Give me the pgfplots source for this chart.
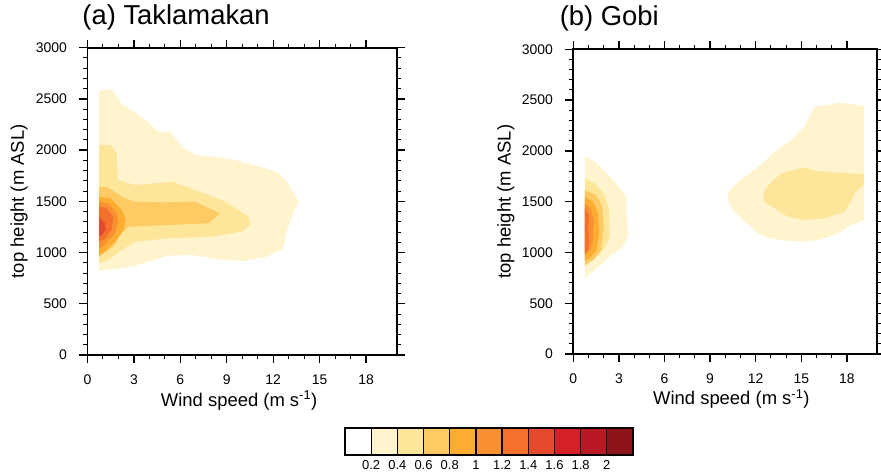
\documentclass[border=0pt]{standalone}
\usepackage{fontspec}
\setmainfont{Liberation Sans}
\usepackage{pgfplots}
\pgfplotsset{compat=1.18}

\definecolor{c1}{HTML}{FFF4CE}
\definecolor{c2}{HTML}{FDE69A}
\definecolor{c3}{HTML}{FDCA63}
\definecolor{c4}{HTML}{FDAE32}
\definecolor{c5}{HTML}{F99132}
\definecolor{c6}{HTML}{F4702C}
\definecolor{c7}{HTML}{E64A2C}
\definecolor{c8}{HTML}{D62029}
\definecolor{c9}{HTML}{B61923}
\definecolor{c10}{HTML}{8B1319}

\pgfplotsset{
  panel/.style={
    scale only axis,
    xmin=0, xmax=20, ymin=0, ymax=3000,
    xtick={0,3,...,18}, ytick={0,500,...,3000},
    minor x tick num=2, minor y tick num=4,
    tick align=outside,
    major tick length=8bp, minor tick length=4bp,
    axis line style={line width=1.8bp},
    major tick style={line width=1.4bp, black},
    minor tick style={line width=1bp, black},
    tick label style={font=\fontsize{14}{14}\selectfont},
    xticklabel style={yshift=-8bp},
    yticklabel style={xshift=-9bp},
    /pgf/number format/assume math mode=true,
    /pgf/number format/set thousands separator={},
    scaled y ticks=false,
    xlabel={Wind speed (m s\textsuperscript{-1})},
    ylabel={top height (m ASL)},
    label style={font=\fontsize{18.5}{18.5}\selectfont},
    title style={font=\fontsize{27.5}{27.5}\selectfont, anchor=base west, inner sep=0pt},
    axis on top,
  },
  band/.style={draw=none, fill=#1},
}

\begin{document}
\begin{tikzpicture}
\path[use as bounding box] (0,0) rectangle (881bp,475bp);

% ---------------- (a) Taklamakan ----------------
\begin{axis}[panel,
  at={(87.5bp,120bp)}, anchor=south west,
  width=309.5bp, height=307.3bp,
  title={(a) Taklamakan},
  title style={at={(axis description cs:-0.017,1.055)}},
  xlabel style={at={(axis description cs:0.49,-0.148)}, anchor=center},
  ylabel style={at={(axis description cs:-0.221,0.5)}, anchor=center},
]
% 0.2-0.4
\addplot[band=c1] coordinates {
 (0.75,2580) (1.57,2594) (2.22,2450) (3.62,2310) (4.59,2180) (5.35,2180)
 (6.1,2034) (6.95,1955) (8.36,1930) (9.54,1904) (10.3,1870) (11.5,1823)
 (12.3,1780) (12.9,1690) (13.65,1497) (13.3,1383) (12.9,1220) (12.63,1041)
 (11.6,960) (10.1,918) (9.1,925) (8.0,945) (6.85,975) (5.2,970) (4.0,915)
 (3.0,870) (2.0,845) (1.47,835) (0.75,820)
} --cycle;
% 0.4-0.6
\addplot[band=c2] coordinates {
 (0.75,2050) (1.46,2050) (1.89,1969) (1.95,1708) (3.07,1660) (5.45,1692)
 (6.95,1611) (8.89,1497) (10.4,1350) (10.51,1269) (9.97,1204) (8.03,1155)
 (5.23,1139) (3.07,1106) (2.21,1025) (1.35,927) (0.75,895)
} --cycle;
% 0.6-0.8
\addplot[band=c3] coordinates {
 (0.75,1640) (1.24,1640) (2.43,1530) (3.07,1497) (4.8,1490) (6.95,1497)
 (8.57,1383) (7.82,1286) (5.23,1269) (2.64,1253) (2.21,1188) (1.67,1057)
 (0.75,960)
} --cycle;
% 0.8-1.0
\addplot[band=c4] coordinates {
 (0.75,1545) (1.46,1530) (2.21,1416) (2.47,1318) (2.32,1220) (1.78,1106)
 (1.13,1008) (0.75,976)
} --cycle;
% 1.0-1.2
\addplot[band=c5] coordinates {
 (0.75,1497) (1.35,1481) (1.89,1383) (1.99,1302) (1.78,1188) (1.13,1074)
 (0.75,1041)
} --cycle;
% 1.2-1.4
\addplot[band=c6] coordinates {
 (0.75,1448) (1.24,1432) (1.67,1350) (1.57,1220) (1.13,1139) (0.75,1106)
} --cycle;
% 1.4-1.6
\addplot[band=c7] coordinates {
 (0.75,1350) (1.13,1286) (1.18,1220) (0.92,1171) (0.75,1155)
} --cycle;
\end{axis}

% ---------------- (b) Gobi ----------------
\begin{axis}[panel,
  at={(573.3bp,121bp)}, anchor=south west,
  width=304bp, height=304.7bp,
  title={(b) Gobi},
  title style={at={(axis description cs:-0.045,1.058)}},
  xlabel style={at={(axis description cs:0.52,-0.148)}, anchor=center},
  ylabel style={at={(axis description cs:-0.222,0.5)}, anchor=center},
]
% left blob
\addplot[band=c1] coordinates {
 (0.76,1943) (1.42,1893) (2.61,1713) (3.48,1549) (3.52,1352) (3.59,1172)
 (3.26,1057) (2.39,958) (1.52,844) (0.76,745)
} --cycle;
\addplot[band=c2] coordinates {
 (0.76,1729) (1.42,1680) (2.07,1565) (2.35,1418) (2.39,1155) (2.07,1040)
 (1.42,942) (0.76,860)
} --cycle;
\addplot[band=c3] coordinates {
 (0.76,1615) (1.52,1565) (1.91,1450) (2.0,1253) (1.85,1024) (1.3,925)
 (0.76,876)
} --cycle;
\addplot[band=c4] coordinates {
 (0.76,1549) (1.3,1500) (1.63,1385) (1.7,1188) (1.52,1024) (1.09,942)
 (0.76,925)
} --cycle;
\addplot[band=c5] coordinates {
 (0.76,1483) (1.13,1434) (1.35,1319) (1.3,1122) (1.13,1024) (0.76,975)
} --cycle;
\addplot[band=c6] coordinates {
 (0.76,1434) (1.04,1369) (0.98,1253) (1.04,1122) (0.98,1024) (0.76,991)
} --cycle;
% right blob
\addplot[band=c1] coordinates {
 (10.2,1598) (10.87,1697) (12.17,1844) (13.26,1992) (14.35,2107) (15.2,2238)
 (15.87,2435) (16.74,2452) (17.6,2475) (19.13,2442) (19.13,1319) (18.26,1270)
 (17.4,1188) (16.3,1129) (15.2,1106) (14.13,1116) (12.83,1139) (12.17,1188)
 (11.3,1303) (10.43,1434) (10.17,1516)
} --cycle;
\addplot[band=c2] coordinates {
 (12.5,1582) (12.83,1664) (13.7,1779) (15.2,1838) (15.87,1805) (17.4,1785)
 (19.13,1772) (19.09,1664) (18.48,1582) (18.26,1500) (17.83,1401)
 (16.52,1336) (15.2,1319) (14.13,1352) (13.04,1451) (12.57,1500)
} --cycle;
\end{axis}

% ---------------- colour bar ----------------
\begin{axis}[
  at={(345bp,20bp)}, anchor=south west,
  scale only axis, width=288bp, height=27bp,
  xmin=0, xmax=11, ymin=0, ymax=1,
  xtick={1,...,10},
  xticklabels={0.2,0.4,0.6,0.8,1,1.2,1.4,1.6,1.8,2},
  ytick=\empty, major tick length=0pt,
  tick label style={font=\fontsize{13}{13}\selectfont},
  xticklabel style={yshift=-2bp},
  axis line style={line width=1.4bp},
  axis on top,
]
\addplot[fill=white, draw=black, line width=1.2bp] coordinates {(0,0) (1,0) (1,1) (0,1)} --cycle;
\addplot[fill=c1, draw=black, line width=1.2bp] coordinates {(1,0) (2,0) (2,1) (1,1)} --cycle;
\addplot[fill=c2, draw=black, line width=1.2bp] coordinates {(2,0) (3,0) (3,1) (2,1)} --cycle;
\addplot[fill=c3, draw=black, line width=1.2bp] coordinates {(3,0) (4,0) (4,1) (3,1)} --cycle;
\addplot[fill=c4, draw=black, line width=1.2bp] coordinates {(4,0) (5,0) (5,1) (4,1)} --cycle;
\addplot[fill=c5, draw=black, line width=1.2bp] coordinates {(5,0) (6,0) (6,1) (5,1)} --cycle;
\addplot[fill=c6, draw=black, line width=1.2bp] coordinates {(6,0) (7,0) (7,1) (6,1)} --cycle;
\addplot[fill=c7, draw=black, line width=1.2bp] coordinates {(7,0) (8,0) (8,1) (7,1)} --cycle;
\addplot[fill=c8, draw=black, line width=1.2bp] coordinates {(8,0) (9,0) (9,1) (8,1)} --cycle;
\addplot[fill=c9, draw=black, line width=1.2bp] coordinates {(9,0) (10,0) (10,1) (9,1)} --cycle;
\addplot[fill=c10, draw=black, line width=1.2bp] coordinates {(10,0) (11,0) (11,1) (10,1)} --cycle;
\end{axis}
\end{tikzpicture}
\end{document}
